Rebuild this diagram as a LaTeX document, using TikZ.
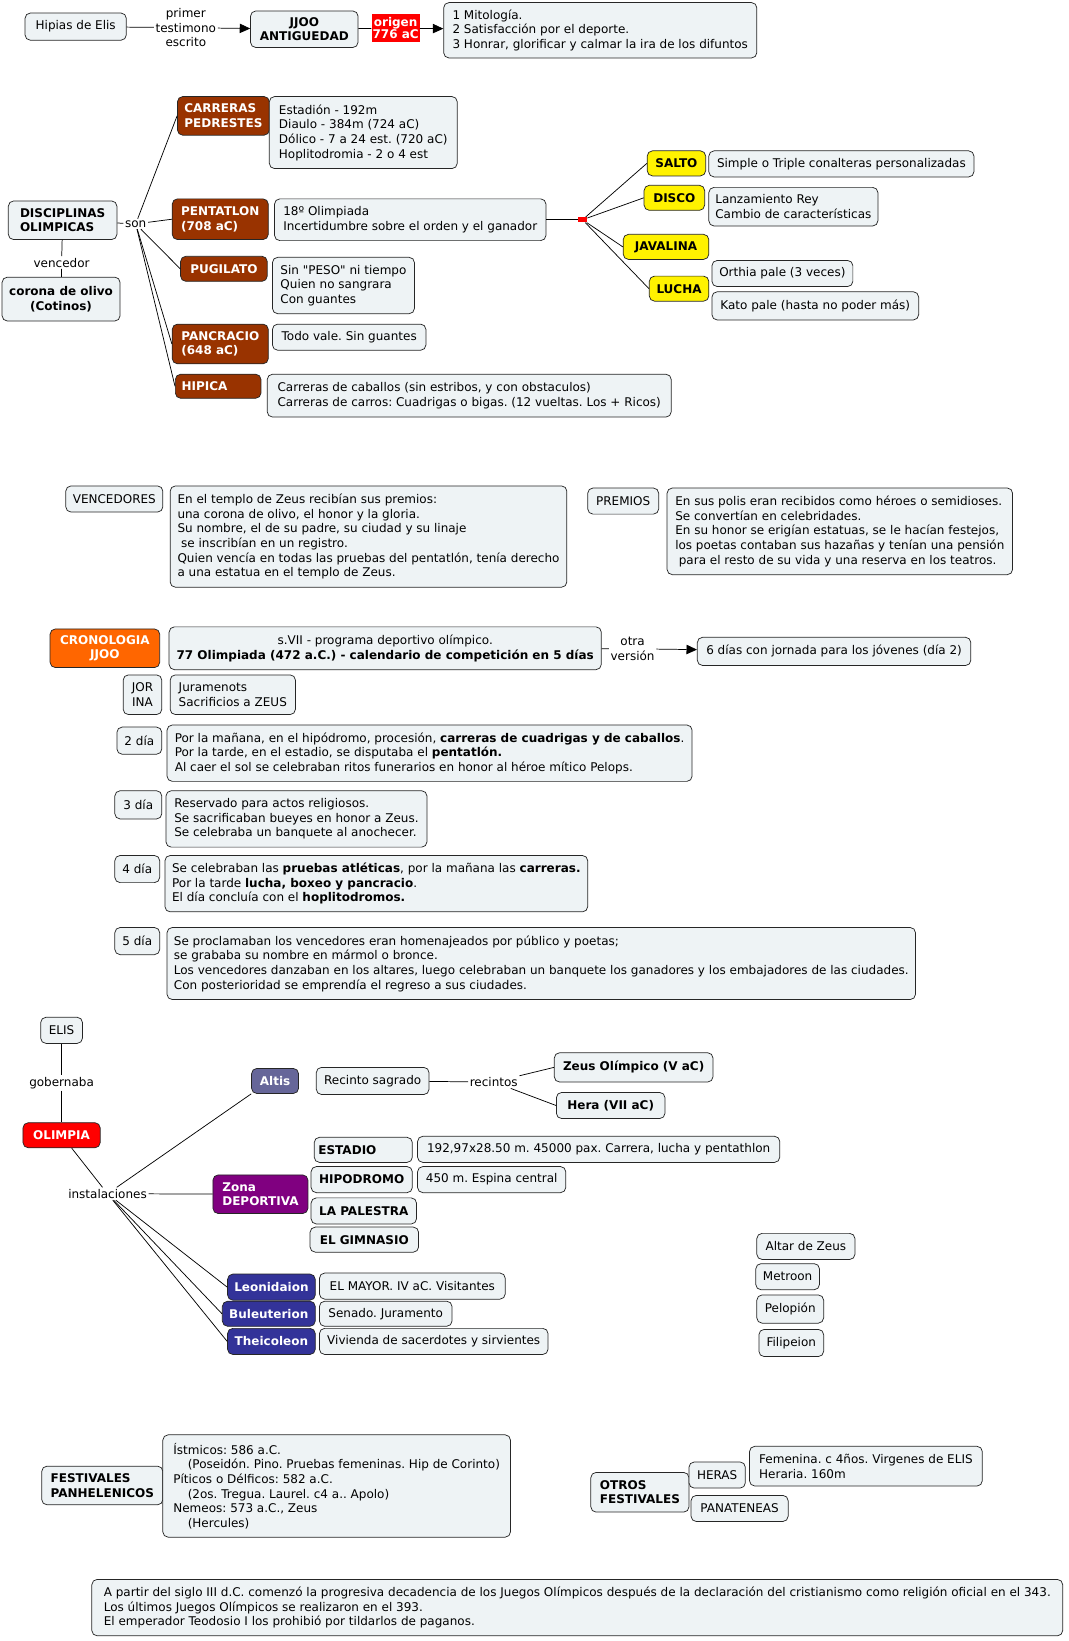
\documentclass[tikz,border=0pt]{standalone}
\usepackage{fontspec}
\setmainfont{DejaVu Sans}
\usepackage{tikz}
\usetikzlibrary{arrows.meta}
\definecolor{notefill}{HTML}{EEF3F5}
\definecolor{brick}{HTML}{993300}
\definecolor{tangerine}{HTML}{FF6600}
\definecolor{slate}{HTML}{666699}
\definecolor{plum}{HTML}{800080}
\definecolor{indigo}{HTML}{333399}
\frenchspacing

\begin{document}
\begin{tikzpicture}[x=1pt, y=-1pt,
    cmap/.style={rounded corners=5pt, inner xsep=4pt, inner ysep=4pt, align=left, line width=0.7pt, font=\fontsize{11.5}{14}\selectfont},
    wh/.style 2 args={minimum width=#1, minimum height=#2},
    note/.style={cmap, draw=black!85, fill=notefill},
    notebf/.style={note, font=\fontsize{11.5}{14}\selectfont\bfseries},
    topic/.style={cmap, draw=black!85, fill=#1, text=white, font=\fontsize{11.5}{14}\selectfont\bfseries},
    linklabel/.style={inner sep=1.5pt, align=center, font=\fontsize{11.5}{14}\selectfont},
    link/.style={draw=black, line width=0.7pt},
    pointed/.style={-{Triangle[length=10pt,width=9pt]}}]
      \useasboundingbox (0,0) rectangle (1024,1572);
      \node[note, wh={97}{26}] (hipias) at (72.5,25.5) {Hipias de Elis};
      \node[linklabel] (testimonio) at (178,26.5) {primer\\testimono\\escrito};
      \node[notebf, align=center, wh={103}{35}] (jjoo) at (291.5,28) {JJOO\\ANTIGUEDAD};
      \node[fill=red, text=white, font=\fontsize{11.5}{12}\selectfont\bfseries, align=center, inner sep=1pt, wh={46}{27}] (origen) at (379,27) {origen\\776 aC};
      \node[note, wh={300}{53}] (motivos) at (575,29) {1 Mitología.\\2 Satisfacción por el deporte.\\3 Honrar, glorificar y calmar la ira de los difuntos};
      \draw[link] (hipias) -- (testimonio);
      \draw[link, pointed] (testimonio) -- (jjoo);
      \draw[link] (jjoo) -- (origen);
      \draw[link, pointed] (origen) -- (motivos);

      \node[notebf, wh={104}{37}] (disciplinas) at (60,211) {DISCIPLINAS\\OLIMPICAS};
      \node[linklabel] (son) at (130,214.5) {son};
      \node[linklabel] (vencedor) at (59,251.5) {vencedor};
      \node[notebf, align=center, wh={113}{42}] (corona) at (58.5,286.5) {corona de olivo\\(Cotinos)};
      \node[topic=brick, wh={88}{37}] (carreras) at (214,111) {CARRERAS\\PEDRESTES};
      \node[note, wh={180}{69}] (carrerasinfo) at (348,127) {Estadión - 192m\\Diaulo - 384m (724 aC)\\Dólico - 7 a 24 est. (720 aC)\\Hoplitodromia - 2 o 4 est};
      \node[topic=brick, wh={92}{39}] (pentatlon) at (211,210) {PENTATLON\\(708 aC)};
      \node[note, wh={260}{40}] (pentatloninfo) at (393,210.5) {18º Olimpiada\\Incertidumbre sobre el orden y el ganador};
      \node[topic=brick, wh={83}{24}] (pugilato) at (214.5,257.5) {PUGILATO};
      \node[note, wh={136}{54}] (pugilatoinfo) at (329,273.5) {Sin \textquotedbl PESO\textquotedbl{} ni tiempo\\Quien no sangrara\\Con guantes};
      \node[topic=brick, wh={92}{38}] (pancracio) at (211,329.5) {PANCRACIO\\(648 aC)};
      \node[note, wh={147}{25}] (pancracioinfo) at (334.5,323) {Todo vale. Sin guantes};
      \node[topic=brick, text width=70, wh={82}{23}] (hipica) at (209,370) {HIPICA};
      \node[note, wh={387}{41}] (hipicainfo) at (449.5,379) {Carreras de caballos (sin estribos, y con obstaculos)\\Carreras de carros: Cuadrigas o bigas. (12 vueltas. Los + Ricos)};
      \node[fill=red, inner sep=0pt, wh={9}{5}] (pentajoin) at (558,210.5) {};
      \node[topic=yellow, text=black, wh={56}{24}] (salto) at (648,156.5) {SALTO};
      \node[note, wh={254}{25}] (saltoinfo) at (806,157) {Simple o Triple conalteras personalizadas};
      \node[topic=yellow, text=black, wh={58}{24}] (disco) at (646,189.5) {DISCO};
      \node[note, wh={162}{37}] (discoinfo) at (760,198) {Lanzamiento Rey\\Cambio de características};
      \node[topic=yellow, text=black, wh={82}{24}] (javalina) at (638,236.5) {JAVALINA};
      \node[topic=yellow, text=black, wh={57}{24}] (lucha) at (650.5,276.5) {LUCHA};
      \node[note, wh={135}{25}] (orthia) at (749.5,262) {Orthia pale (3 veces)};
      \node[note, wh={198}{27}] (kato) at (781,293) {Kato pale (hasta no poder más)};
      \draw[link] (disciplinas) -- (son);
      \draw[link] (disciplinas) -- (vencedor) -- (corona);
      \draw[link] (son) -- (carreras.west);
      \draw[link] (son) -- (pentatlon.west);
      \draw[link] (son) -- (pugilato.west);
      \draw[link] (son) -- (pancracio.west);
      \draw[link] (son) -- (hipica.west);
      \draw[link] (pentatloninfo) -- (pentajoin);
      \draw[link] (pentajoin) -- (salto.west);
      \draw[link] (pentajoin) -- (disco.west);
      \draw[link] (pentajoin) -- (javalina.west);
      \draw[link] (pentajoin) -- (lucha.west);

      \node[note, wh={93}{25}] (vencedores) at (109.5,478) {VENCEDORES};
      \node[note, wh={380}{97}] (vencedoresinfo) at (353,514) {En el templo de Zeus recibían sus premios:\\una corona de olivo, el honor y la gloria.\\Su nombre, el de su padre, su ciudad y su linaje\\\hspace{0.3em}se inscribían en un registro.\\Quien vencía en todas las pruebas del pentatlón, tenía derecho\\a una estatua en el templo de Zeus.};
      \node[note, wh={68}{25}] (premios) at (597,480) {PREMIOS};
      \node[note, wh={331}{83}] (premiosinfo) at (804.5,509) {En sus polis eran recibidos como héroes o semidioses.\\Se convertían en celebridades.\\En su honor se erigían estatuas, se le hacían festejos,\\los poetas contaban sus hazañas y tenían una pensión\\\hspace{0.3em}para el resto de su vida y una reserva en los teatros.};

      \node[topic=tangerine, align=center, wh={105}{37}] (cronologia) at (100.5,621) {CRONOLOGIA\\JJOO};
      \node[note, align=center, wh={414}{41}] (calendario) at (369,621) {s.VII - programa deportivo olímpico.\\\textbf{77 Olimpiada (472 a.C.) - calendario de competición en 5 días}};
      \node[linklabel] (otraversion) at (606,621.5) {otra\\versión};
      \node[note, wh={262}{27}] (seisdias) at (799,624) {6 días con jornada para los jóvenes (día 2)};
      \draw[link] (calendario) -- (otraversion);
      \draw[link, pointed] (otraversion) -- (seisdias);
      \node[note, align=center, inner xsep=2pt, wh={37}{38}] (jornada) at (136.5,665.5) {JOR\\INA};
      \node[note, wh={120}{38}] (jornadainfo) at (223,665.5) {Juramenots\\Sacrificios a ZEUS};
      \node[note, wh={43}{26}] (dia2) at (133.5,709.5) {2 día};
      \node[note, wh={503}{54}] (dia2info) at (411.5,721.5) {Por la mañana, en el hipódromo, procesión, \textbf{carreras de cuadrigas y de caballos}.\\Por la tarde, en el estadio, se disputaba el \textbf{pentatlón.}\\Al caer el sol se celebraban ritos funerarios en honor al héroe mítico Pelops.};
      \node[note, wh={45}{27}] (dia3) at (132.5,771) {3 día};
      \node[note, wh={250}{54}] (dia3info) at (284,784.5) {Reservado para actos religiosos.\\Se sacrificaban bueyes en honor a Zeus.\\Se celebraba un banquete al anochecer.};
      \node[note, wh={43}{26}] (dia4) at (131.5,832.5) {4 día};
      \node[note, wh={405}{54}] (dia4info) at (360.5,846.5) {Se celebraban las \textbf{pruebas atléticas}, por la mañana las \textbf{carreras.}\\Por la tarde \textbf{lucha, boxeo y pancracio}.\\El día concluía con el \textbf{hoplitodromos.}};
      \node[note, wh={43}{26}] (dia5) at (131.5,901.5) {5 día};
      \node[note, wh={717}{69}] (dia5info) at (518.5,923) {Se proclamaban los vencedores eran homenajeados por público y poetas;\\se grababa su nombre en mármol o  bronce.\\Los vencedores danzaban en los altares, luego celebraban un banquete los ganadores y los embajadores de las ciudades.\\Con posterioridad se emprendía el regreso a sus ciudades.};

      \node[note, wh={40}{25}] (elis) at (59,987) {ELIS};
      \node[linklabel] (gobernaba) at (59,1037.5) {gobernaba};
      \node[topic=red, wh={74}{24}] (olimpia) at (59,1087.5) {OLIMPIA};
      \node[linklabel] (instalaciones) at (103,1143.5) {instalaciones};
      \node[topic=slate, wh={45}{24}] (altis) at (263.5,1035.5) {Altis};
      \node[note, wh={108}{26}] (recinto) at (357,1035.5) {Recinto sagrado};
      \node[linklabel] (recintos) at (473,1036.5) {recintos};
      \node[notebf, wh={152}{28}] (zeus) at (607,1022.5) {Zeus Olímpico (V aC)};
      \node[notebf, wh={104}{25}] (hera) at (585,1059) {Hera (VII aC)};
      \node[topic=plum, wh={91}{37}] (zona) at (249.5,1144) {Zona\\DEPORTIVA};
      \node[notebf, text width=86, wh={94}{24}] (estadio) at (348,1101.5) {ESTADIO};
      \node[note, wh={347}{25}] (estadioinfo) at (573.5,1101) {192,97x28.50 m. 45000 pax. Carrera, lucha y pentathlon};
      \node[notebf, wh={97}{25}] (hipodromo) at (346.5,1130) {HIPODROMO};
      \node[note, wh={142}{25}] (hipodromoinfo) at (471,1130) {450 m. Espina central};
      \node[notebf, wh={101}{25}] (palestra) at (348.5,1160) {LA PALESTRA};
      \node[notebf, wh={104}{24}] (gimnasio) at (349,1187.5) {EL GIMNASIO};
      \node[note, wh={94}{25}] (altar) at (772,1194) {Altar de Zeus};
      \node[note, wh={61}{25}] (metroon) at (754.5,1223) {Metroon};
      \node[note, wh={64}{27}] (pelopion) at (757,1254) {Pelopión};
      \node[note, wh={62}{26}] (filipeion) at (758,1286.5) {Filipeion};
      \node[topic=indigo, wh={84}{25}] (leonidaion) at (260,1233) {Leonidaion};
      \node[note, wh={178}{25}] (leonidaioninfo) at (395,1232) {EL MAYOR. IV aC. Visitantes};
      \node[topic=indigo, wh={89}{24}] (buleuterion) at (257.5,1258.5) {Buleuterion};
      \node[note, wh={127}{24}] (buleuterioninfo) at (369.5,1258.5) {Senado. Juramento};
      \node[topic=indigo, wh={84}{25}] (theicoleon) at (260,1285) {Theicoleon};
      \node[note, wh={219}{25}] (theicoleoninfo) at (415.5,1285) {Vivienda de sacerdotes y sirvientes};
      \draw[link] (elis) -- (gobernaba) -- (olimpia);
      \draw[link] (olimpia) -- (instalaciones);
      \draw[link] (instalaciones) -- (altis.south west);
      \draw[link] (instalaciones) -- (zona);
      \draw[link] (instalaciones) -- (leonidaion.west);
      \draw[link] (instalaciones) -- (buleuterion.west);
      \draw[link] (instalaciones) -- (theicoleon.west);
      \draw[link] (recinto) -- (recintos);
      \draw[link] (recintos) -- (zeus.west);
      \draw[link] (recintos) -- (hera.west);

      \node[notebf, wh={116}{37}] (festivales) at (98,1423) {FESTIVALES\\PANHELENICOS};
      \node[note, wh={333}{98}] (festivalesinfo) at (322.5,1423.5) {Ístmicos: 586 a.C.\\\hspace{1.2em}(Poseidón. Pino. Pruebas femeninas. Hip de Corinto)\\Píticos o Délficos: 582 a.C.\\\hspace{1.2em}(2os. Tregua. Laurel. c4 a.. Apolo)\\Nemeos: 573 a.C., Zeus\\\hspace{1.2em}(Hercules)};
      \node[notebf, wh={94}{38}] (otros) at (613,1429.5) {OTROS\\FESTIVALES};
      \node[note, wh={54}{25}] (heras) at (687,1413) {HERAS};
      \node[note, wh={223}{38}] (herasinfo) at (829.5,1404.5) {Femenina. c 4ños. Virgenes de ELIS\\Heraria. 160m};
      \node[note, wh={93}{25}] (panateneas) at (708.5,1445) {PANATENEAS};
      \node[note, wh={930}{54}] (decadencia) at (553,1540) {A partir del siglo III d.C. comenzó la progresiva decadencia de los Juegos Olímpicos después de la declaración del cristianismo como religión oficial en el 343.\\Los últimos Juegos Olímpicos se realizaron en el 393.\\El emperador Teodosio I los prohibió por tildarlos de paganos.};
    \end{tikzpicture}
\end{document}
